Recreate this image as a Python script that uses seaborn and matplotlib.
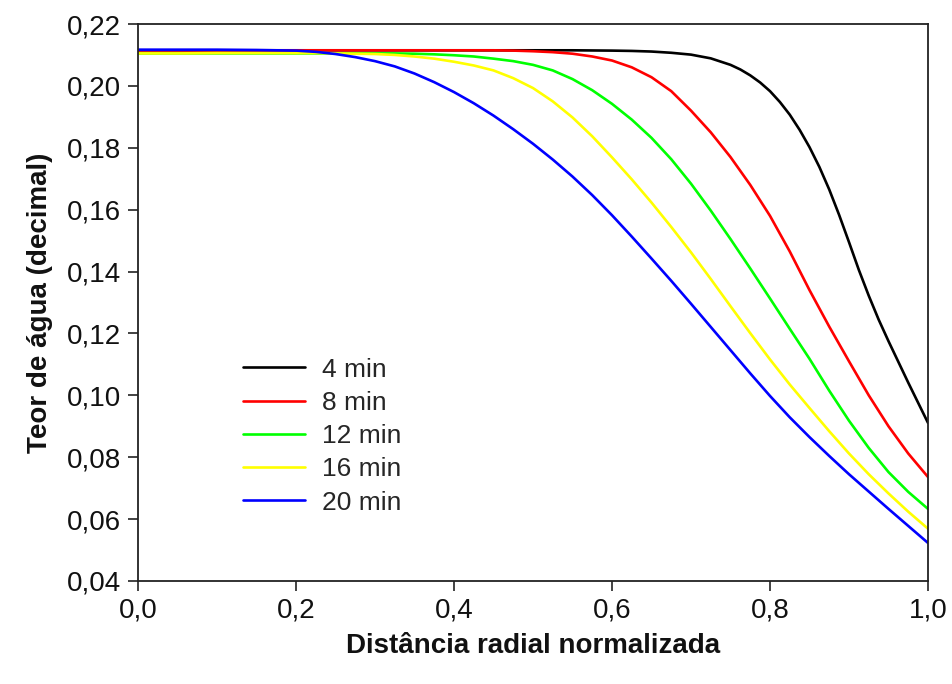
import numpy as np
import pandas as pd
import matplotlib
matplotlib.use("Agg")
import matplotlib.pyplot as plt
from matplotlib.ticker import FuncFormatter
import seaborn as sns

# Normalised radial distance
dist = [0.0, 0.05, 0.1, 0.15, 0.2, 0.225, 0.25, 0.275, 0.3, 0.325, 0.35, 0.375,
        0.4, 0.425, 0.45, 0.475, 0.5, 0.525, 0.55, 0.575, 0.6, 0.625, 0.65,
        0.675, 0.7, 0.725, 0.75, 0.775, 0.8, 0.825, 0.85, 0.875, 0.9, 0.925,
        0.95, 0.975, 1.0]

# The 4 min profile bends sharply near the surface, so it is sampled more finely there
dist_4min = [0.0, 0.1, 0.2, 0.3, 0.4, 0.5, 0.55, 0.6, 0.625, 0.65, 0.675, 0.7,
             0.725, 0.75, 0.7625, 0.775, 0.7875, 0.8, 0.8125, 0.825, 0.8375, 0.85,
             0.8625, 0.875, 0.8875, 0.9, 0.9125, 0.925, 0.9375, 0.95, 0.9625,
             0.975, 0.9875, 1.0]

# Water content (decimal) profiles for each drying time
w_4min = [0.2115, 0.2115, 0.2115, 0.2115, 0.2115, 0.2115, 0.2115, 0.2114, 0.2113,
          0.2111, 0.2107, 0.2101, 0.2089, 0.2068, 0.2053, 0.2034, 0.2011, 0.1983,
          0.1948, 0.1907, 0.1858, 0.1802, 0.1738, 0.1665, 0.1583, 0.1495, 0.1405,
          0.1322, 0.1245, 0.1175, 0.1108, 0.1041, 0.0976, 0.0911]
w_8min = [0.2115, 0.2115, 0.2115, 0.2115, 0.2115, 0.2115, 0.2115, 0.2115, 0.2115,
          0.2115, 0.2115, 0.2115, 0.2115, 0.2115, 0.2115, 0.2114, 0.2112, 0.2109,
          0.2104, 0.2095, 0.2082, 0.2060, 0.2028, 0.1983, 0.1920, 0.1850, 0.1770,
          0.1680, 0.1580, 0.1465, 0.1340, 0.1222, 0.1110, 0.1000, 0.0900, 0.0812,
          0.0736]
w_12min = [0.2105, 0.2105, 0.2105, 0.2105, 0.2105, 0.2105, 0.2105, 0.2105, 0.2105,
           0.2105, 0.2104, 0.2102, 0.2099, 0.2095, 0.2088, 0.2080, 0.2068, 0.2050,
           0.2022, 0.1986, 0.1942, 0.1891, 0.1832, 0.1763, 0.1684, 0.1597, 0.1505,
           0.1410, 0.1313, 0.1215, 0.1118, 0.1015, 0.0918, 0.0830, 0.0752, 0.0688,
           0.0633]
w_16min = [0.2105, 0.2105, 0.2106, 0.2106, 0.2106, 0.2106, 0.2105, 0.2104, 0.2103,
           0.2100, 0.2095, 0.2088, 0.2078, 0.2066, 0.2050, 0.2025, 0.1993, 0.1950,
           0.1898, 0.1837, 0.1769, 0.1698, 0.1623, 0.1544, 0.1462, 0.1376, 0.1288,
           0.1201, 0.1116, 0.1035, 0.0959, 0.0884, 0.0812, 0.0745, 0.0683, 0.0624,
           0.0569]
w_20min = [0.2117, 0.2117, 0.2117, 0.2116, 0.2114, 0.2110, 0.2103, 0.2093, 0.2080,
           0.2063, 0.2040, 0.2012, 0.1980, 0.1944, 0.1904, 0.1860, 0.1813, 0.1762,
           0.1707, 0.1647, 0.1582, 0.1513, 0.1442, 0.1370, 0.1296, 0.1221, 0.1146,
           0.1071, 0.0998, 0.0929, 0.0865, 0.0804, 0.0745, 0.0689, 0.0633, 0.0578,
           0.0523]

series_labels = ["4 min", "8 min", "12 min", "16 min", "20 min"]
series_dist = [dist_4min, dist, dist, dist, dist]
series_values = [w_4min, w_8min, w_12min, w_16min, w_20min]
series_colors = ["#000000", "#ff0000", "#00ff00", "#ffff00", "#0000ff"]

x_ticks = [0.0, 0.2, 0.4, 0.6, 0.8, 1.0]
y_ticks = [0.04, 0.06, 0.08, 0.10, 0.12, 0.14, 0.16, 0.18, 0.20, 0.22]

df = pd.concat(
    [pd.DataFrame({"dist": xs, "w": vals, "tempo": lab})
     for lab, xs, vals in zip(series_labels, series_dist, series_values)],
    ignore_index=True,
)

sns.set_style("ticks")
plt.rcParams["font.family"] = ["Liberation Sans", "DejaVu Sans"]

fig = plt.figure(figsize=(9.52, 6.84), dpi=100)
ax = fig.add_axes([138 / 952, 103 / 684, 790 / 952, 557 / 684])

sns.lineplot(data=df, x="dist", y="w", hue="tempo", hue_order=series_labels,
             palette=dict(zip(series_labels, series_colors)), linewidth=1.9,
             ax=ax, sort=False, estimator=None)

ax.set_xlim(0.0, 1.0)
ax.set_ylim(0.04, 0.22)
ax.set_xticks(x_ticks)
ax.set_yticks(y_ticks)
ax.xaxis.set_major_formatter(FuncFormatter(lambda v, p: f"{v:.1f}".replace(".", ",")))
ax.yaxis.set_major_formatter(FuncFormatter(lambda v, p: f"{v:.2f}".replace(".", ",")))
ax.tick_params(axis="both", direction="out", length=7, width=1.2, colors="#222222",
               labelsize=20, labelcolor="#111111", pad=5)

for side in ["top", "right", "bottom", "left"]:
    ax.spines[side].set_visible(True)
    ax.spines[side].set_color("#222222")
    ax.spines[side].set_linewidth(1.3)

ax.set_xlabel("Distância radial normalizada", fontsize=20, fontweight="bold",
              labelpad=7, color="#111111")
ax.set_ylabel("Teor de água (decimal)", fontsize=20, fontweight="bold",
              labelpad=10, color="#111111")

leg = ax.legend(loc="upper left", bbox_to_anchor=(0.133, 0.401), frameon=False,
                fontsize=19, handlelength=2.35, handletextpad=0.65,
                labelspacing=0.35, borderpad=0, borderaxespad=0, title=None)
for line in leg.get_lines():
    line.set_linewidth(1.9)

fig.savefig("out.png", dpi=100)
